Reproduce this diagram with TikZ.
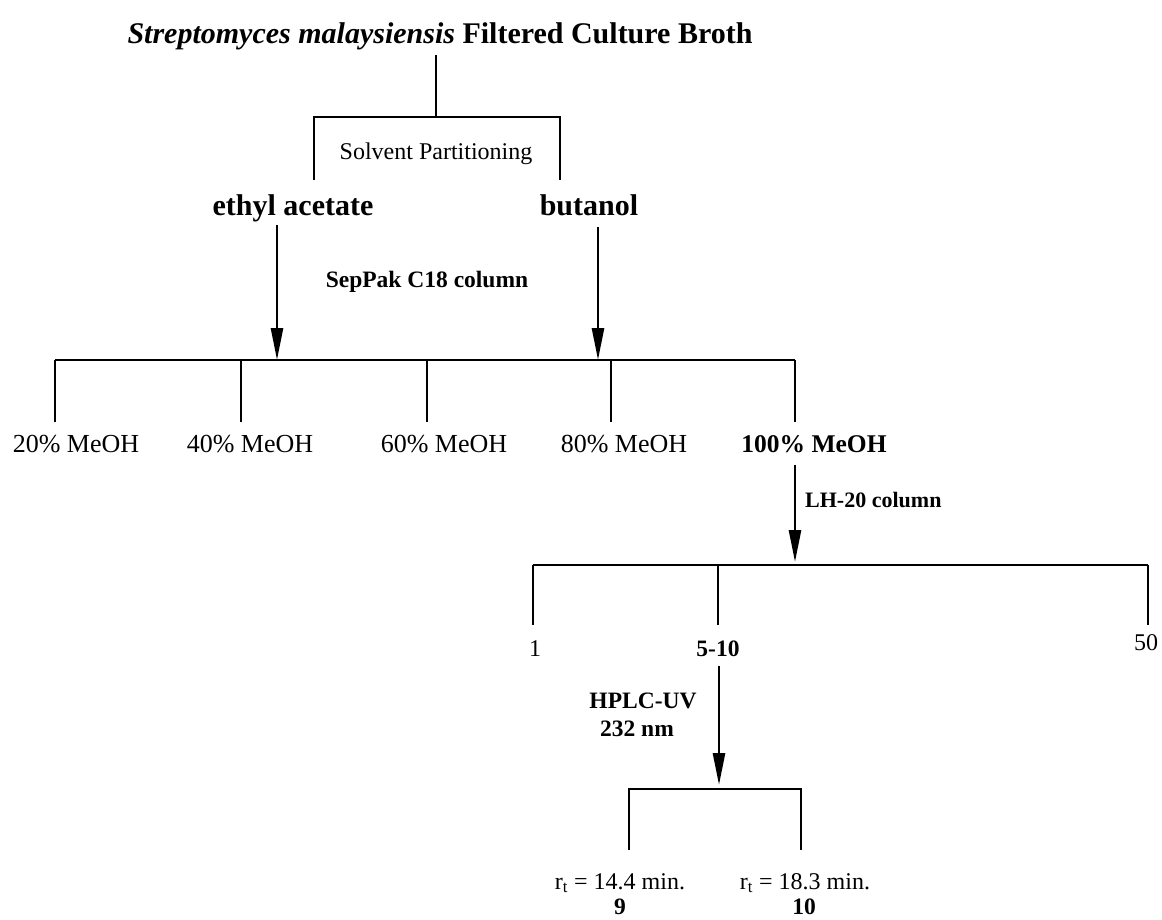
\documentclass[tikz,border=0pt]{standalone}
\usepackage{fontspec}
\setmainfont{Liberation Serif}
\usetikzlibrary{arrows.meta}
\tikzset{
  line/.style={line width=1.9pt},
  flow/.style={line width=2.6pt,-{Triangle[length=32pt,width=12pt]}},
  lbl/.style={inner sep=0pt,anchor=base,font=\fontsize{24}{26}\selectfont},
  mlbl/.style={inner sep=0pt,anchor=base,font=\fontsize{26}{28}\selectfont},
  blbl/.style={inner sep=0pt,anchor=base,font=\fontsize{23.5}{25}\selectfont\bfseries},
  big/.style={inner sep=0pt,anchor=base,font=\fontsize{30}{32}\selectfont\bfseries},
}
\begin{document}
\begin{tikzpicture}[x=1pt,y=-1pt]
\useasboundingbox (0,0) rectangle (1162,919);
% title
\node[big] (title) at (440,43) {\textit{Streptomyces malaysiensis} Filtered Culture Broth};
\coordinate (t1) at (436,55);
\coordinate (t2) at (436,117);
\coordinate (pl) at (314,117);
\coordinate (pr) at (560,117);
\coordinate (pld) at (314,180);
\coordinate (prd) at (560,180);
\draw[line] (t1) -- (t2);
\draw[line] (pld) -- (pl) -- (pr) -- (prd);
\node[lbl] (solv) at (436,159) {Solvent Partitioning};
\node[big] (ea) at (293,215) {ethyl acetate};
\node[big] (bu) at (589,215) {butanol};
% SepPak
\coordinate (ea1) at (277,225);
\coordinate (ea2) at (277,360);
\coordinate (bu1) at (598,227);
\coordinate (bu2) at (598,360);
\draw[flow] (ea1) -- (ea2);
\draw[flow] (bu1) -- (bu2);
\node[blbl] (sep) at (427,287) {SepPak C18 column};
\coordinate (h1) at (55,360);
\coordinate (h5) at (795,360);
\draw[line] (h1) -- (h5);
\foreach \x/\n in {55/a,241/b,427/c,611/d,795/e}{
  \coordinate (m\n t) at (\x,360);
  \coordinate (m\n b) at (\x,422);
  \draw[line] (m\n t) -- (m\n b);
}
\node[mlbl] (m20) at (76,452) {20\% MeOH};
\node[mlbl] (m40) at (250,452) {40\% MeOH};
\node[mlbl] (m60) at (444,452) {60\% MeOH};
\node[mlbl] (m80) at (624,452) {80\% MeOH};
\node[blbl,font=\fontsize{25.5}{27}\selectfont\bfseries] (m100) at (814,452) {100\% MeOH};
% LH-20
\coordinate (lh1) at (795,465);
\coordinate (lh2) at (795,562);
\draw[flow] (lh1) -- (lh2);
\node[blbl,anchor=base west,font=\fontsize{22}{24}\selectfont\bfseries] (lh) at (805,507) {LH-20 column};
\coordinate (g1) at (533,565);
\coordinate (g3) at (1148,565);
\draw[line] (g1) -- (g3);
\foreach \x/\n in {533/a,718/b,1148/c}{
  \coordinate (f\n t) at (\x,565);
  \coordinate (f\n b) at (\x,625);
  \draw[line] (f\n t) -- (f\n b);
}
\node[lbl] (f1) at (535,656) {1};
\node[blbl] (f510) at (718,656) {5-10};
\node[lbl] (f50) at (1146,650) {50};
% HPLC
\coordinate (hp1) at (719,666);
\coordinate (hp2) at (719,785);
\draw[flow] (hp1) -- (hp2);
\node[blbl] (hplc) at (643,708) {HPLC-UV};
\node[blbl] (nm) at (637,736) {232 nm};
\coordinate (k1) at (629,789);
\coordinate (k2) at (801,789);
\coordinate (k1b) at (629,850);
\coordinate (k2b) at (801,850);
\draw[line] (k1b) -- (k1) -- (k2) -- (k2b);
\node[lbl] (r1) at (620,889) {r\textsubscript{t} = 14.4 min.};
\node[lbl] (r2) at (805,889) {r\textsubscript{t} = 18.3 min.};
\node[blbl] (c9) at (620,914) {9};
\node[blbl] (c10) at (804,914) {10};
\end{tikzpicture}
\end{document}
